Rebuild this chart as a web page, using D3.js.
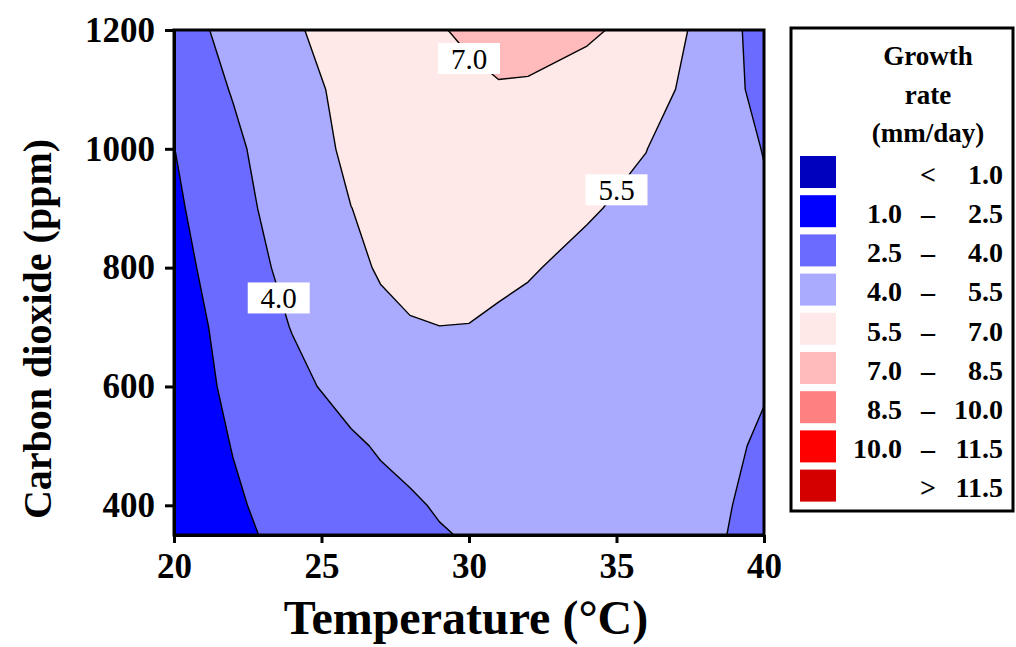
<!DOCTYPE html>
<html>
<head>
<meta charset="utf-8">
<script src="https://cdn.jsdelivr.net/npm/d3@7"></script>
<style>
  body { margin: 0; background: #fff; }
  svg { display: block; }
  text { font-family: "Liberation Serif", "Times New Roman", serif; }
</style>
</head>
<body>
<svg id="chart" width="1016" height="647"></svg>
<script>
// Grid of measured growth rates (mm/day): one row per CO2 level, one column per temperature
const temperatures = [20, 22, 24, 26, 27, 28, 29, 30, 31, 32, 34, 36, 38, 40];
const co2Levels = [350, 400, 500, 600, 700, 800, 900, 1000, 1100, 1200];
const growthRate = [
  [1.85, 2.30, 2.76, 3.21, 3.44, 3.66, 3.885, 4.12, 4.22, 4.30, 4.30, 4.20, 4.10, 3.83], // 350
  [1.88, 2.38, 2.87, 3.36, 3.60, 3.80, 4.145, 4.49, 4.56, 4.60, 4.55, 4.40, 4.20, 3.77], // 400
  [1.89, 2.53, 3.16, 3.79, 4.13, 4.48, 4.70, 4.85, 4.87, 4.85, 4.75, 4.55, 4.30, 3.88],  // 500
  [1.85, 2.74, 3.62, 4.51, 4.78, 5.00, 5.07, 5.10, 5.05, 4.95, 4.80, 4.60, 4.35, 4.06],  // 600
  [1.86, 2.95, 4.05, 4.85, 5.24, 5.39, 5.49, 5.47, 5.32, 5.25, 5.00, 4.75, 4.55, 4.30],  // 700
  [1.97, 3.35, 4.35, 5.25, 5.60, 5.95, 6.00, 5.95, 5.75, 5.58, 5.24, 4.95, 4.65, 4.35],  // 800
  [2.24, 3.60, 4.56, 5.49, 5.74, 6.00, 6.12, 6.20, 6.18, 6.10, 5.60, 5.23, 4.70, 4.14],  // 900
  [2.48, 3.76, 4.78, 5.75, 6.00, 6.20, 6.38, 6.50, 6.55, 6.55, 6.00, 5.52, 4.74, 3.96],  // 1000
  [3.14, 4.07, 5.10, 5.80, 6.03, 6.23, 6.48, 6.72, 6.92, 6.86, 6.19, 5.95, 5.05, 3.51],  // 1100
  [3.45, 4.36, 5.37, 5.97, 6.28, 6.60, 6.92, 7.20, 7.40, 7.50, 7.30, 6.35, 5.15, 3.33]   // 1200
];

const thresholds = [1.0, 2.5, 4.0, 5.5, 7.0, 8.5, 10.0, 11.5];
const bandColors = ["#0000bf", "#0000ff", "#6b6bff", "#aaaaff", "#ffe8e8",
                    "#ffbbbb", "#ff8080", "#ff0000", "#d40000"];
const legendRows = [
  ["", "<", "1.0"], ["1.0", "–", "2.5"], ["2.5", "–", "4.0"], ["4.0", "–", "5.5"],
  ["5.5", "–", "7.0"], ["7.0", "–", "8.5"], ["8.5", "–", "10.0"], ["10.0", "–", "11.5"],
  ["", ">", "11.5"]
];
const legendTitle = ["Growth", "rate", "(mm/day)"];
const contourLabels = [
  { text: "4.0", t: 23.55, c: 749 },
  { text: "5.5", t: 35.0, c: 931 },
  { text: "7.0", t: 30.0, c: 1152 }
];
const xTicks = [20, 25, 30, 35, 40];
const yTicks = [400, 600, 800, 1000, 1200];

const svg = d3.select("#chart");
const plot = { left: 174, right: 764, top: 30, bottom: 535 };

const x = d3.scaleLinear().domain([20, 40]).range([plot.left, plot.right]);
const y = d3.scaleLinear().domain([350, 1200]).range([plot.bottom, plot.top]);

// grid index -> data value (the grid spacing is not uniform)
const nx = temperatures.length, ny = co2Levels.length;
const colToT = d3.scaleLinear().domain(d3.range(nx)).range(temperatures);
const rowToC = d3.scaleLinear().domain(d3.range(ny)).range(co2Levels);

const toPixel = d3.geoTransform({
  point(u, v) {
    const i = Math.max(0, Math.min(nx - 1, u - 0.5));
    const j = Math.max(0, Math.min(ny - 1, v - 0.5));
    this.stream.point(x(colToT(i)), y(rowToC(j)));
  }
});
const path = d3.geoPath(toPixel);

const bands = d3.contours()
  .size([nx, ny])
  .thresholds(thresholds)(growthRate.flat());

svg.append("clipPath").attr("id", "plot-clip")
  .append("rect")
  .attr("x", plot.left).attr("y", plot.top)
  .attr("width", plot.right - plot.left).attr("height", plot.bottom - plot.top);

const field = svg.append("g").attr("clip-path", "url(#plot-clip)");

field.append("rect")
  .attr("x", plot.left).attr("y", plot.top)
  .attr("width", plot.right - plot.left).attr("height", plot.bottom - plot.top)
  .attr("fill", bandColors[0]);

field.selectAll("path.band")
  .data(bands)
  .join("path")
  .attr("class", "band")
  .attr("d", path)
  .attr("fill", (d, i) => bandColors[i + 1])
  .attr("stroke", "#000")
  .attr("stroke-width", 1.4)
  .attr("stroke-linejoin", "round");

// contour value labels
const lab = field.selectAll("g.clabel")
  .data(contourLabels)
  .join("g")
  .attr("class", "clabel")
  .attr("transform", d => `translate(${x(d.t)},${y(d.c)})`);
lab.append("rect")
  .attr("x", -31).attr("y", -15.5)
  .attr("width", 62).attr("height", 31)
  .attr("fill", "#fff");
lab.append("text")
  .attr("text-anchor", "middle")
  .attr("dy", "0.35em")
  .attr("font-size", 29)
  .text(d => d.text);

// frame
svg.append("rect")
  .attr("x", plot.left).attr("y", plot.top)
  .attr("width", plot.right - plot.left).attr("height", plot.bottom - plot.top)
  .attr("fill", "none").attr("stroke", "#000").attr("stroke-width", 3);

// axes
const xAxis = svg.append("g")
  .attr("transform", `translate(0,${plot.bottom})`)
  .call(d3.axisBottom(x).tickValues(xTicks).tickFormat(d3.format("d"))
    .tickSize(8).tickSizeOuter(0).tickPadding(10));
const yAxis = svg.append("g")
  .attr("transform", `translate(${plot.left},0)`)
  .call(d3.axisLeft(y).tickValues(yTicks).tickFormat(d3.format("d"))
    .tickSize(9).tickSizeOuter(0).tickPadding(10));

[xAxis, yAxis].forEach(g => {
  g.select(".domain").attr("stroke-width", 3);
  g.selectAll(".tick line").attr("stroke-width", 3);
  g.selectAll(".tick text")
    .attr("font-family", "Liberation Serif, serif")
    .attr("font-weight", "bold")
    .attr("font-size", 35)
    .attr("fill", "#000");
});

svg.append("text")
  .attr("x", 466).attr("y", 634)
  .attr("text-anchor", "middle")
  .attr("font-weight", "bold")
  .attr("font-size", 48)
  .text("Temperature (°C)");

svg.append("text")
  .attr("transform", "translate(51,329) rotate(-90)")
  .attr("text-anchor", "middle")
  .attr("font-weight", "bold")
  .attr("font-size", 40)
  .text("Carbon dioxide (ppm)");

// legend
const legend = svg.append("g");
legend.append("rect")
  .attr("x", 791).attr("y", 28).attr("width", 222).attr("height", 483)
  .attr("fill", "#fff").attr("stroke", "#000").attr("stroke-width", 3);

legend.selectAll("text.title")
  .data(legendTitle)
  .join("text")
  .attr("class", "title")
  .attr("x", 928)
  .attr("y", (d, i) => [56, 95, 133][i])
  .attr("dy", "0.35em")
  .attr("text-anchor", "middle")
  .attr("font-weight", "bold")
  .attr("font-size", 27)
  .text(d => d);

const rowStep = 39.2;
const entry = legend.selectAll("g.entry")
  .data(legendRows)
  .join("g")
  .attr("class", "entry")
  .attr("transform", (d, i) => `translate(0,${174 + i * rowStep})`);
entry.append("rect")
  .attr("x", 800).attr("y", -18).attr("width", 36).attr("height", 32)
  .attr("fill", (d, i) => bandColors[i]);
const entryText = (sel, xPos, anchor, k) => sel.append("text")
  .attr("x", xPos).attr("dy", "0.35em")
  .attr("text-anchor", anchor)
  .attr("font-weight", "bold")
  .attr("font-size", 28)
  .text(d => d[k]);
entryText(entry, 902, "end", 0);
entryText(entry, 928, "middle", 1);
entryText(entry, 1003, "end", 2);
</script>
</body>
</html>
